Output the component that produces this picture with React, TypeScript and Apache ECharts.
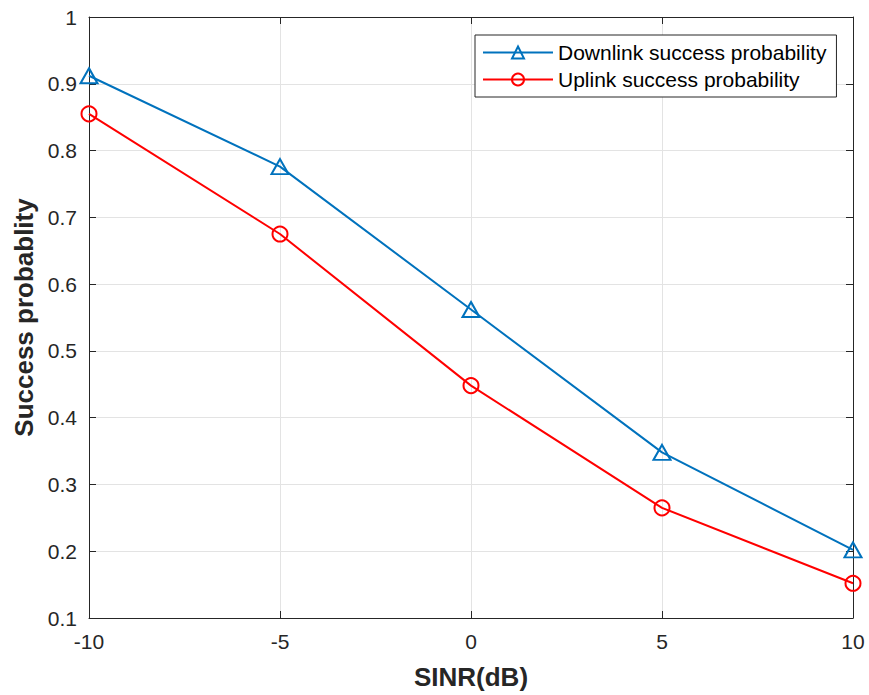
import React, { useEffect, useRef } from "react";
import * as echarts from "echarts";

const sinr = [-10, -5, 0, 5, 10];
const downlink = [0.912, 0.776, 0.562, 0.348, 0.202];
const uplink = [0.855, 0.675, 0.448, 0.265, 0.152];
const xTicks = [-10, -5, 0, 5, 10];
const yTicks = [0.1, 0.2, 0.3, 0.4, 0.5, 0.6, 0.7, 0.8, 0.9, 1];

const AX = "#262626";
const FONT = "Liberation Sans, Arial, Helvetica, sans-serif";

export default function App() {
  const ref = useRef<HTMLDivElement>(null);
  useEffect(() => {
    const chart = echarts.init(ref.current!, null, { renderer: "svg" });
    const axisCommon = {
      axisLine: { show: true, onZero: false, lineStyle: { color: AX, width: 1 } },
      axisTick: { show: true, inside: true, length: 7, lineStyle: { color: AX } },
    };
    chart.setOption({
      animation: false,
      backgroundColor: "#fff",
      grid: { left: 89, right: 16, top: 17, bottom: 74, containLabel: false },
      xAxis: [
        {
          type: "value",
          min: -10,
          max: 10,
          interval: 5,
          ...axisCommon,
          axisLabel: {
            color: AX,
            fontSize: 21,
            fontFamily: FONT,
            margin: 13,
            formatter: (v: number) => (xTicks.includes(v) ? String(v) : ""),
          },
          splitLine: { show: true, lineStyle: { color: "#e3e3e3", width: 1 } },
          name: "SINR(dB)",
          nameLocation: "middle",
          nameGap: 46,
          nameTextStyle: { color: AX, fontSize: 26, fontWeight: "bold", fontFamily: FONT },
        },
        {
          type: "value",
          position: "top",
          min: -10,
          max: 10,
          interval: 5,
          ...axisCommon,
          axisLabel: { show: false },
          splitLine: { show: false },
        },
      ],
      yAxis: [
        {
          type: "value",
          min: 0.1,
          max: 1,
          interval: 0.1,
          ...axisCommon,
          axisLabel: {
            color: AX,
            fontSize: 21,
            fontFamily: FONT,
            margin: 12,
            formatter: (v: number) => {
              const r = Math.round(v * 10) / 10;
              return yTicks.includes(r) ? String(r) : "";
            },
          },
          splitLine: { show: true, lineStyle: { color: "#e3e3e3", width: 1 } },
          name: "Success probablity",
          nameLocation: "middle",
          nameGap: 51,
          nameTextStyle: { color: AX, fontSize: 26, fontWeight: "bold", fontFamily: FONT },
        },
        {
          type: "value",
          position: "right",
          min: 0.1,
          max: 1,
          interval: 0.1,
          ...axisCommon,
          axisLabel: { show: false },
          splitLine: { show: false },
        },
      ],
      legend: {
        left: 475,
        top: 35,
        orient: "vertical",
        backgroundColor: "#fff",
        borderColor: AX,
        borderWidth: 1,
        borderRadius: 0,
        padding: [7, 10, 7, 7],
        itemGap: 6,
        itemWidth: 70,
        itemHeight: 15,
        textStyle: { color: "#000", fontSize: 21, fontFamily: FONT },
        data: ["Downlink success probability", "Uplink success probability"],
      },
      series: [
        {
          name: "Downlink success probability",
          type: "line",
          data: sinr.map((x, i) => [x, downlink[i]]),
          symbol: "triangle",
          symbolSize: [17, 15],
          lineStyle: { color: "#0072BD", width: 2 },
          itemStyle: { color: "rgba(255,255,255,0)", borderColor: "#0072BD", borderWidth: 2 },
          z: 3,
        },
        {
          name: "Uplink success probability",
          type: "line",
          data: sinr.map((x, i) => [x, uplink[i]]),
          symbol: "circle",
          symbolSize: 15,
          lineStyle: { color: "#FF0000", width: 2 },
          itemStyle: { color: "rgba(255,255,255,0)", borderColor: "#FF0000", borderWidth: 2 },
          z: 3,
        },
      ],
    });
    return () => chart.dispose();
  }, []);
  return (
    <div
      ref={ref}
      style={{ position: "fixed", left: 0, top: 0, width: 869, height: 695 }}
    />
  );
}
